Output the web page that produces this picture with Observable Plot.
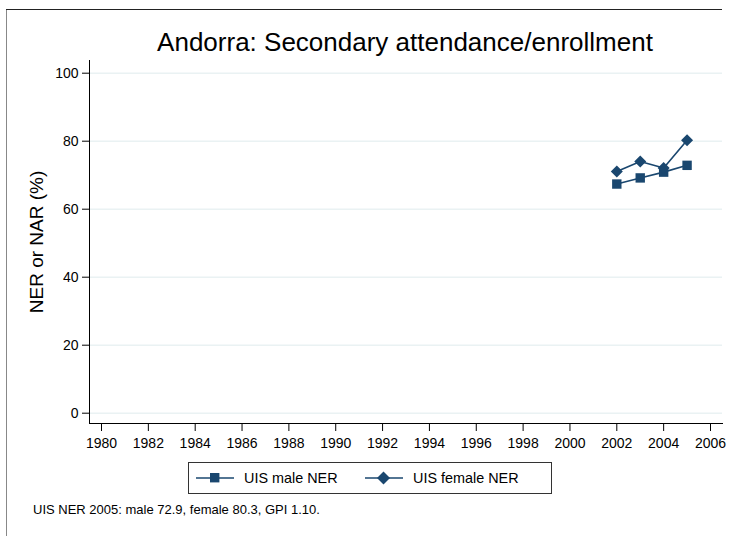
<!DOCTYPE html>
<html><head><meta charset="utf-8">
<script src="https://cdn.jsdelivr.net/npm/d3@7"></script>
<script src="https://cdn.jsdelivr.net/npm/@observablehq/plot@0.6"></script>
<style>
body{margin:0;background:#fff;font-family:"Liberation Sans",Arial,sans-serif;color:#000;}
#wrap{position:relative;width:731px;height:536px;overflow:hidden;background:#fff;}
#chart{position:absolute;left:0;top:0;}
.abs{position:absolute;white-space:nowrap;}
#title{left:0;width:810px;top:27px;text-align:center;font-size:26px;}
#ylab{left:37px;top:242px;font-size:19px;transform:translate(-50%,-50%) rotate(-90deg);}
#caption{left:33px;top:502px;font-size:13px;}
#legend{left:188px;top:462px;width:364px;height:32px;border:1px solid #333;box-sizing:border-box;}
#legend .item{position:absolute;top:0;height:30px;display:flex;align-items:center;font-size:14.4px;}
#frameL{left:6px;top:9px;width:1px;height:527px;background:#888;}
#frameT{left:6px;top:9px;width:716px;height:1px;background:#222;}
</style></head><body>
<div id="wrap">
  <div id="frameL" class="abs"></div>
  <div id="frameT" class="abs"></div>
  <div id="chart"></div>
  <div id="title" class="abs"></div>
  <div id="ylab" class="abs"></div>
  <div id="legend" class="abs"></div>
  <div id="caption" class="abs"></div>
</div>
<script>
const titleText = "Andorra: Secondary attendance/enrollment";
const yLabel = "NER or NAR (%)";
const captionText = "UIS NER 2005: male 72.9, female 80.3, GPI 1.10.";
const years = [2002, 2003, 2004, 2005];
const maleNER = [67.4, 69.2, 70.9, 72.9];
const femaleNER = [71.1, 74.0, 72.1, 80.3];
const seriesNames = ["UIS male NER", "UIS female NER"];
const xTicks = [1980,1982,1984,1986,1988,1990,1992,1994,1996,1998,2000,2002,2004,2006];
const yTicks = [0, 20, 40, 60, 80, 100];

const color = "#1a476f";
const squareSym = {draw(ctx, size){ const r = Math.sqrt(size/Math.PI); ctx.rect(-r,-r,2*r,2*r); }};
const diamondSym = {draw(ctx, size){ const r = Math.sqrt(size/Math.PI); ctx.moveTo(0,-r); ctx.lineTo(r,0); ctx.lineTo(0,r); ctx.lineTo(-r,0); ctx.closePath(); }};

const male = years.map((y,i) => ({year: y, value: maleNER[i]}));
const female = years.map((y,i) => ({year: y, value: femaleNER[i]}));

const chart = Plot.plot({
  width: 731, height: 536,
  marginLeft: 89, marginRight: 9, marginTop: 60, marginBottom: 113,
  style: {fontFamily: '"Liberation Sans", Arial, sans-serif', fontSize: "14px", color: "#000", background: "transparent"},
  x: {domain: [1980, 2006], range: [101, 710], axis: null},
  y: {domain: [0, 100], range: [412.7, 72.7], axis: null},
  marks: [
    Plot.gridY(yTicks, {stroke: "#eaf2f3", strokeOpacity: 1, strokeWidth: 1.5}),
    Plot.axisY(yTicks, {anchor: "left", tickSize: 7, tickPadding: 4, fontSize: 14, label: null, stroke: "#000"}),
    Plot.axisX(xTicks, {anchor: "bottom", tickSize: 8, tickPadding: 7, fontSize: 14, label: null, tickFormat: d => String(d), stroke: "#000"}),
    Plot.frame({anchor: "left", stroke: "#000"}),
    Plot.frame({anchor: "bottom", stroke: "#000"}),
    Plot.line(male, {x: "year", y: "value", stroke: color, strokeWidth: 1.6}),
    Plot.line(female, {x: "year", y: "value", stroke: color, strokeWidth: 1.6}),
    Plot.dot(male, {x: "year", y: "value", symbol: squareSym, r: 4.7, fill: color, stroke: "none"}),
    Plot.dot(female, {x: "year", y: "value", symbol: diamondSym, r: 6, fill: color, stroke: "none"})
  ]
});
document.getElementById("chart").appendChild(chart);
document.getElementById("title").textContent = titleText;
document.getElementById("ylab").textContent = yLabel;
document.getElementById("caption").textContent = captionText;

const leg = document.getElementById("legend");
const shapes = [
  `<rect x="14" y="5" width="9.4" height="9.4" fill="${color}"/>`,
  `<path d="M18.5,3.5 L25,10 L18.5,16.5 L12,10 Z" fill="${color}"/>`
];
const lefts = [7, 176];
seriesNames.forEach((name, i) => {
  const it = document.createElement("div");
  it.className = "item";
  it.style.left = lefts[i] + "px";
  it.innerHTML = `<svg width="38" height="20" style="margin-right:10px"><line x1="0" y1="10" x2="38" y2="10" stroke="${color}" stroke-width="1.6"/>${shapes[i]}</svg><span>${name}</span>`;
  leg.appendChild(it);
});
</script>
</body></html>
